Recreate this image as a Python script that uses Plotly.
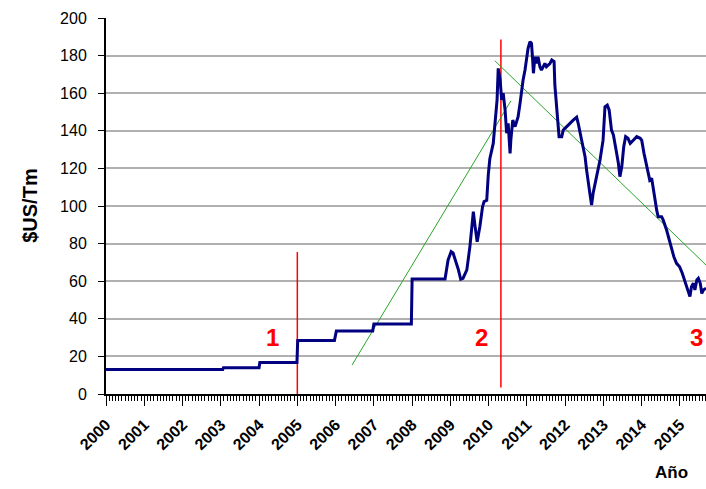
import plotly.graph_objects as go

# ---- data ----
price_year = [
    2000.0, 2003.05, 2003.07, 2004.0, 2004.02, 2004.99, 2005.01, 2005.97, 2005.99, 2006.02,
    2006.97, 2007.0, 2007.98, 2008.0, 2008.86, 2008.94, 2009.02, 2009.07, 2009.21, 2009.27,
    2009.33, 2009.43, 2009.51, 2009.60, 2009.64, 2009.70, 2009.77, 2009.84, 2009.88, 2009.95,
    2009.99, 2010.03, 2010.12, 2010.19, 2010.22, 2010.25, 2010.30, 2010.34, 2010.38, 2010.43,
    2010.47, 2010.51, 2010.56, 2010.58, 2010.63, 2010.69, 2010.77, 2010.82, 2010.86, 2010.90,
    2010.95, 2010.99, 2011.03, 2011.08, 2011.12, 2011.15, 2011.17, 2011.21, 2011.25, 2011.29,
    2011.34, 2011.38, 2011.43, 2011.47, 2011.51, 2011.60, 2011.65, 2011.71, 2011.73, 2011.78,
    2011.80, 2011.84, 2011.91, 2011.95, 2012.04, 2012.12, 2012.21, 2012.30, 2012.34, 2012.43,
    2012.52, 2012.56, 2012.60, 2012.65, 2012.69, 2012.73, 2012.82, 2012.91, 2012.99, 2013.04,
    2013.10, 2013.15, 2013.21, 2013.26, 2013.33, 2013.39, 2013.43, 2013.48, 2013.53, 2013.58,
    2013.64, 2013.70, 2013.78, 2013.87, 2013.96, 2014.00, 2014.06, 2014.13, 2014.17, 2014.21,
    2014.26, 2014.30, 2014.35, 2014.39, 2014.43, 2014.52, 2014.56, 2014.65, 2014.72, 2014.78,
    2014.84, 2014.91, 2014.99, 2015.06, 2015.12, 2015.21, 2015.26, 2015.30, 2015.35, 2015.39,
    2015.44, 2015.48, 2015.53, 2015.57, 2015.61, 2015.68,
]
price_value = [
    13.0, 13.0, 14.0, 14.0, 16.7, 16.7, 28.4, 28.4, 30.5, 33.5,
    33.5, 37.2, 37.2, 61.2, 61.2, 71.3, 75.7, 75.0, 66.0, 61.0,
    61.5, 66.0, 78.4, 97.0, 90.0, 81.0, 89.0, 99.6, 102.3, 103.0,
    116.5, 125.0, 133.3, 147.5, 156.4, 173.2, 167.0, 156.4, 160.0, 151.0,
    138.7, 144.0, 128.0, 135.0, 145.7, 142.2, 147.5, 154.6, 161.7, 167.0,
    172.3, 177.7, 183.9, 187.4, 186.5, 177.7, 170.6, 179.4, 175.8, 179.4,
    174.1, 172.3, 174.1, 175.8, 174.1, 175.8, 177.7, 176.8, 164.4, 152.8,
    144.0, 136.9, 136.9, 140.4, 142.2, 144.0, 145.7, 147.2, 144.0, 135.0,
    126.2, 119.1, 112.1, 105.9, 100.5, 106.8, 115.6, 124.5, 135.0, 152.8,
    153.7, 151.0, 140.4, 137.8, 129.8, 122.7, 115.6, 121.0, 131.5, 136.9,
    136.0, 133.3, 135.0, 136.9, 136.0, 135.0, 128.0, 121.0, 116.5, 113.8,
    114.7, 110.3, 103.2, 97.9, 94.3, 94.3, 92.6, 87.2, 81.9, 78.4,
    73.0, 69.5, 67.7, 64.2, 60.6, 55.3, 51.8, 57.1, 58.9, 55.3,
    60.6, 61.5, 58.9, 53.5, 55.3, 56.2,
]

# vertical markers (red) : x, bottom, top
marker_x = [2005.0, 2010.32]
marker_bottom = [0.0, 3.5]
marker_top = [75.5, 188.6]
marker_labels = ["1", "2", "3"]
label_x = [2004.34, 2009.80, 2015.42]
label_y = [30.3, 30.3, 30.3]

# green trend lines
trend_up_x = [2006.43, 2010.58]
trend_up_y = [15.4, 155.9]
trend_down_x = [2010.16, 2015.68]
trend_down_y = [177.3, 68.6]

year_ticks = list(range(2000, 2016))
y_ticks = list(range(0, 201, 20))

# ---- figure ----
fig = go.Figure()

for xv, y0, y1 in zip(marker_x, marker_bottom, marker_top):
    fig.add_trace(go.Scatter(x=[xv, xv], y=[y0, y1], mode="lines",
                             line=dict(color="#ff0000", width=1.5),
                             showlegend=False, hoverinfo="skip"))

fig.add_trace(go.Scatter(x=trend_up_x, y=trend_up_y, mode="lines",
                         line=dict(color="#2aa52a", width=1),
                         showlegend=False, hoverinfo="skip"))
fig.add_trace(go.Scatter(x=trend_down_x, y=trend_down_y, mode="lines",
                         line=dict(color="#2aa52a", width=1),
                         showlegend=False, hoverinfo="skip"))

fig.add_trace(go.Scatter(x=price_year, y=price_value, mode="lines",
                         line=dict(color="#000080", width=3),
                         showlegend=False))

for t, xv, yv in zip(marker_labels, label_x, label_y):
    fig.add_annotation(x=xv, y=yv, text=t, showarrow=False, xref="x", yref="y",
                       xanchor="center", yanchor="middle",
                       font=dict(family="Liberation Sans, Arial, sans-serif",
                                 size=24, color="#ff0000", weight="bold"))

fig.add_annotation(x=-0.127, y=0.5, xref="paper", yref="paper", text="$US/Tm",
                   textangle=-90, showarrow=False, xanchor="center", yanchor="middle",
                   font=dict(family="Liberation Sans, Arial, sans-serif",
                             size=20, color="#000000", weight="bold"))
fig.add_annotation(x=0.943, y=-0.21, xref="paper", yref="paper", text="Año",
                   showarrow=False, xanchor="center", yanchor="middle",
                   font=dict(family="Liberation Sans, Arial, sans-serif",
                             size=17, color="#000000", weight="bold"))

fig.update_layout(
    width=706, height=489,
    margin=dict(l=106, r=0, t=18, b=95, autoexpand=False),
    paper_bgcolor="white", plot_bgcolor="white",
    font=dict(family="Liberation Sans, Arial, sans-serif", color="#000000"),
    showlegend=False,
)
fig.update_xaxes(
    range=[2000, 2015.68],
    tickvals=year_ticks, ticktext=[str(y) for y in year_ticks],
    tickangle=-45,
    tickfont=dict(size=16, weight="bold"),
    ticks="outside", ticklen=10, tickcolor="black", tickwidth=1,
    ticklabelstandoff=3,
    minor=dict(dtick=1/12, tick0=2000, ticks="outside", ticklen=5,
               tickcolor="black", tickwidth=1, showgrid=False),
    showline=True, linecolor="black", linewidth=2,
    showgrid=False, zeroline=False, automargin=False,
)
fig.update_yaxes(
    range=[0, 200],
    tickvals=y_ticks,
    tickfont=dict(size=16),
    ticks="outside", ticklen=6, tickcolor="black", tickwidth=1,
    ticklabelstandoff=8,
    showline=True, linecolor="black", linewidth=2,
    showgrid=True, gridcolor="#b0b0b0", gridwidth=1.5,
    zeroline=False, automargin=False,
)

fig.write_html(
    "out.html",
    config={"displayModeBar": False},
    post_script="document.body.style.margin='0';document.body.style.overflow='hidden';",
)
